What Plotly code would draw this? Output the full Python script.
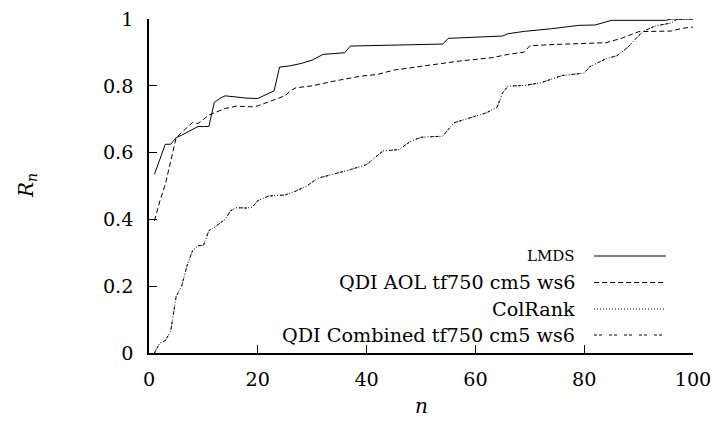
import plotly.graph_objects as go

# Recall R_n versus rank n for four ranking methods
lmds_n = [1, 2, 3, 4, 5, 6, 7, 8, 9, 10, 11, 12, 13, 14, 16, 18, 20, 22, 23, 24,
          26, 28, 30, 32, 36, 37, 48, 54, 55, 65, 66, 69, 74, 77, 79, 82, 85, 95, 96, 100]
lmds_r = [0.535, 0.580, 0.625, 0.625, 0.645, 0.652, 0.660, 0.668, 0.678, 0.678,
          0.678, 0.750, 0.762, 0.770, 0.766, 0.763, 0.762, 0.779, 0.785, 0.856,
          0.860, 0.867, 0.877, 0.894, 0.899, 0.919, 0.923, 0.925, 0.942, 0.949,
          0.956, 0.963, 0.971, 0.977, 0.981, 0.982, 0.996, 0.996, 1.000, 1.000]

aol_n = [1, 2, 3, 4, 5, 6, 7, 8, 9, 10, 11, 12, 14, 16, 19, 20, 22, 24, 25, 26,
         27, 30, 34, 39, 42, 45, 48, 51, 57, 63, 66, 69, 70, 75, 84, 87, 90, 96, 98, 100]
aol_r = [0.396, 0.455, 0.505, 0.580, 0.645, 0.660, 0.676, 0.690, 0.687, 0.700,
         0.712, 0.719, 0.732, 0.739, 0.737, 0.740, 0.752, 0.765, 0.770, 0.785,
         0.794, 0.800, 0.814, 0.829, 0.834, 0.847, 0.854, 0.862, 0.874, 0.884,
         0.894, 0.901, 0.920, 0.924, 0.929, 0.943, 0.962, 0.964, 0.972, 0.976]

colrank_n = [1, 2, 3, 4, 5, 6, 7, 8, 9, 10, 11, 12, 14, 15, 16, 18, 19, 20, 22, 25,
             27, 29, 31, 33, 35, 37, 40, 42, 43, 46, 48, 50, 54, 56, 58, 62, 64, 65,
             66, 69, 72, 74, 76, 80, 81, 84, 86, 88, 90, 91, 93, 96, 97, 100]
colrank_r = [0.000, 0.030, 0.037, 0.066, 0.170, 0.200, 0.262, 0.306, 0.321, 0.322,
             0.366, 0.376, 0.400, 0.426, 0.435, 0.434, 0.437, 0.456, 0.470, 0.473,
             0.485, 0.500, 0.523, 0.532, 0.539, 0.549, 0.564, 0.592, 0.605, 0.609,
             0.633, 0.646, 0.649, 0.689, 0.699, 0.719, 0.736, 0.779, 0.799, 0.801,
             0.809, 0.819, 0.831, 0.838, 0.857, 0.881, 0.890, 0.915, 0.950, 0.964,
             0.979, 0.988, 0.999, 1.000]

# the combined QDI run coincides with ColRank
combined_n = list(colrank_n)
combined_r = list(colrank_r)

series_names = ["LMDS", "QDI AOL tf750 cm5 ws6", "ColRank", "QDI Combined tf750 cm5 ws6"]
series_dash = ["solid", "5px,3px", "1px,2px", "3px,2px,3px,7px"]
series_data = [(lmds_n, lmds_r), (aol_n, aol_r), (colrank_n, colrank_r), (combined_n, combined_r)]

x_ticks = [0, 20, 40, 60, 80, 100]
y_ticks = [0, 0.2, 0.4, 0.6, 0.8, 1]
y_tick_text = ["0", "0.2", "0.4", "0.6", "0.8", "1"]

FONT = "DejaVu Serif"
W, H = 714, 430
ML, MR, MT, MB = 149, 21, 19, 77
PW, PH = W - ML - MR, H - MT - MB


def px_to_paper_x(px):
    return (px - ML) / PW


def px_to_paper_y(py):
    return (H - MB - py) / PH


fig = go.Figure()
for (xs, ys), name, dash in zip(series_data, series_names, series_dash):
    fig.add_trace(go.Scatter(x=xs, y=ys, mode="lines", name=name, showlegend=False,
                             line=dict(color="black", width=1, dash=dash)))

# hand-built key: right-aligned labels with line samples to their right
row_y = [256, 282.5, 309, 335]
shapes = []
annotations = []
for name, dash, ry in zip(series_names, series_dash, row_y):
    is_caps = name == "LMDS"
    annotations.append(dict(
        xref="paper", yref="paper", x=px_to_paper_x(577), y=px_to_paper_y(ry),
        xanchor="right", yanchor="middle", showarrow=False, text=name,
        font=dict(family=FONT, size=15 if is_caps else 19.2, color="black")))
    shapes.append(dict(
        type="line", xref="paper", yref="paper",
        x0=px_to_paper_x(594), x1=px_to_paper_x(666),
        y0=px_to_paper_y(ry), y1=px_to_paper_y(ry),
        line=dict(color="black", width=1, dash=dash)))

# axis titles
annotations.append(dict(
    xref="paper", yref="paper", x=px_to_paper_x(27), y=0.5,
    xanchor="center", yanchor="middle", showarrow=False, textangle=-90,
    text="<i>R</i><sub><i>n</i></sub>",
    font=dict(family=FONT, size=20, color="black")))
annotations.append(dict(
    xref="paper", yref="paper", x=0.5, y=px_to_paper_y(406),
    xanchor="center", yanchor="middle", showarrow=False,
    text="<i>n</i>", font=dict(family=FONT, size=20, color="black")))

fig.update_layout(
    width=W, height=H,
    margin=dict(l=ML, r=MR, t=MT, b=MB, pad=0, autoexpand=False),
    paper_bgcolor="white", plot_bgcolor="white",
    shapes=shapes, annotations=annotations,
    showlegend=False,
    xaxis=dict(range=[0, 100], tickvals=x_ticks, ticks="inside", ticklen=8,
               tickwidth=1, tickcolor="black", showline=True, linecolor="black",
               linewidth=1.5, showgrid=False, zeroline=False, mirror=False,
               ticklabelstandoff=8, automargin=False,
               tickfont=dict(family=FONT, size=19.2, color="black")),
    yaxis=dict(range=[0, 1], tickvals=y_ticks, ticktext=y_tick_text, ticks="inside",
               ticklen=8, tickwidth=1, tickcolor="black", showline=True,
               linecolor="black", linewidth=1.5, showgrid=False, zeroline=False,
               mirror=False, ticklabelstandoff=10, automargin=False,
               tickfont=dict(family=FONT, size=19.2, color="black")),
)

fig.write_html("out.html")
